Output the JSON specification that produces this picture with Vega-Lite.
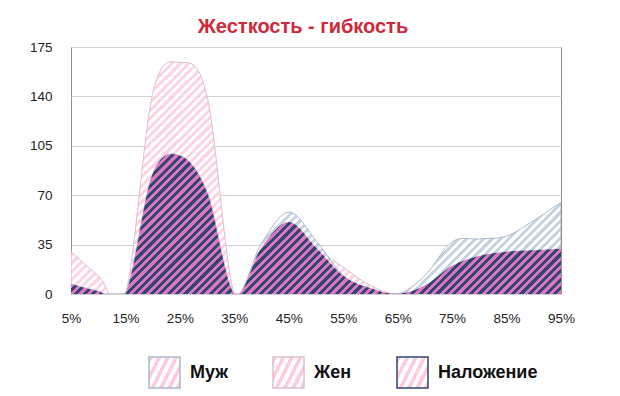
{"$schema":"https://vega.github.io/schema/vega-lite/v6.json","width":490,"height":247,"autosize":{"type":"none"},"padding":{"left":71,"top":47,"right":59,"bottom":102},"background":"#ffffff",
"title":{"text":"Жесткость - гибкость","color":"#d0293a","fontSize":20,"font":"Liberation Sans","fontWeight":"bold","offset":3,"anchor":"middle","dx":-13},
"data":{"values":[
{"p":5,"s":"Муж","v":7},{"p":10,"s":"Муж","v":2},{"p":15,"s":"Муж","v":0},{"p":20,"s":"Муж","v":85},{"p":25,"s":"Муж","v":98},{"p":30,"s":"Муж","v":72},{"p":35,"s":"Муж","v":0},{"p":40,"s":"Муж","v":36},{"p":45,"s":"Муж","v":58},{"p":50,"s":"Муж","v":38},{"p":55,"s":"Муж","v":13},{"p":60,"s":"Муж","v":4},{"p":65,"s":"Муж","v":0},{"p":70,"s":"Муж","v":13},{"p":75,"s":"Муж","v":37},{"p":80,"s":"Муж","v":39},{"p":85,"s":"Муж","v":41},{"p":90,"s":"Муж","v":52},{"p":95,"s":"Муж","v":65},
{"p":5,"s":"Жен","v":30},{"p":10,"s":"Жен","v":13},{"p":15,"s":"Жен","v":0},{"p":20,"s":"Жен","v":142},{"p":25,"s":"Жен","v":164},{"p":30,"s":"Жен","v":140},{"p":35,"s":"Жен","v":0},{"p":40,"s":"Жен","v":33},{"p":45,"s":"Жен","v":51},{"p":50,"s":"Жен","v":33},{"p":55,"s":"Жен","v":19},{"p":60,"s":"Жен","v":6},{"p":65,"s":"Жен","v":0},{"p":70,"s":"Жен","v":6},{"p":75,"s":"Жен","v":20},{"p":80,"s":"Жен","v":27},{"p":85,"s":"Жен","v":30},{"p":90,"s":"Жен","v":31},{"p":95,"s":"Жен","v":32},
{"p":5,"s":"Наложение","v":7},{"p":10,"s":"Наложение","v":2},{"p":15,"s":"Наложение","v":0},{"p":20,"s":"Наложение","v":85},{"p":25,"s":"Наложение","v":98},{"p":30,"s":"Наложение","v":72},{"p":35,"s":"Наложение","v":0},{"p":40,"s":"Наложение","v":33},{"p":45,"s":"Наложение","v":51},{"p":50,"s":"Наложение","v":33},{"p":55,"s":"Наложение","v":13},{"p":60,"s":"Наложение","v":4},{"p":65,"s":"Наложение","v":0},{"p":70,"s":"Наложение","v":6},{"p":75,"s":"Наложение","v":20},{"p":80,"s":"Наложение","v":27},{"p":85,"s":"Наложение","v":30},{"p":90,"s":"Наложение","v":31},{"p":95,"s":"Наложение","v":32}
]},
"encoding":{
"x":{"field":"p","type":"quantitative","scale":{"domain":[5,95],"nice":false,"zero":false},"axis":{"values":[5,15,25,35,45,55,65,75,85,95],"labelExpr":"datum.value + '%'","grid":false,"ticks":false,"domain":false,"labelPadding":17,"labelFontSize":13.5,"labelFont":"Liberation Sans","labelColor":"#222222","labelFlush":false,"labelOverlap":false,"title":null}},
"y":{"field":"v","type":"quantitative","scale":{"domain":[0,175],"nice":false},"stack":null,"axis":{"values":[0,35,70,105,140,175],"grid":true,"gridColor":"#d2d2d2","ticks":false,"domain":false,"labelPadding":19,"labelFontSize":13.5,"labelFont":"Liberation Sans","labelColor":"#222222","labelFlush":false,"labelOverlap":false,"title":null}},
"stroke":{"field":"s","type":"nominal","scale":{"domain":["Муж","Жен","Наложение"],"range":["#a9b9ca","#dcbfcb","#334477"]},
"legend":{"orient":"none","legendX":77,"legendY":309,"direction":"horizontal","title":null,"symbolType":"square","symbolSize":961,"labelFont":"Liberation Sans","labelFontSize":18,"labelFontWeight":"bold","labelColor":"#111111","labelOffset":9,"columnPadding":42,"padding":0,
"encode":{"symbols":{"update":{"fill":[
{"test":"datum.value === 'Муж'","value":{"gradient":"linear","x1":0,"y1":0,"x2":1,"y2":1,"stops":[{"offset":0,"color":"#225588"},{"offset":0.07,"color":"#225588"},{"offset":0.07,"color":"#d6ecfa"},{"offset":0.14,"color":"#d6ecfa"},{"offset":0.14,"color":"#225588"},{"offset":0.21,"color":"#225588"},{"offset":0.21,"color":"#d6ecfa"},{"offset":0.28,"color":"#d6ecfa"},{"offset":0.28,"color":"#225588"},{"offset":0.35,"color":"#225588"},{"offset":0.35,"color":"#d6ecfa"},{"offset":0.42,"color":"#d6ecfa"},{"offset":0.42,"color":"#225588"},{"offset":0.49,"color":"#225588"},{"offset":0.49,"color":"#d6ecfa"},{"offset":0.56,"color":"#d6ecfa"},{"offset":0.56,"color":"#225588"},{"offset":0.63,"color":"#225588"},{"offset":0.63,"color":"#d6ecfa"},{"offset":0.7,"color":"#d6ecfa"},{"offset":0.7,"color":"#225588"},{"offset":0.77,"color":"#225588"},{"offset":0.77,"color":"#d6ecfa"},{"offset":0.84,"color":"#d6ecfa"},{"offset":0.84,"color":"#225588"},{"offset":0.91,"color":"#225588"},{"offset":0.91,"color":"#d6ecfa"},{"offset":0.98,"color":"#d6ecfa"},{"offset":0.98,"color":"#225588"},{"offset":1,"color":"#225588"}]}},
{"test":"datum.value === 'Жен'","value":{"gradient":"linear","x1":0,"y1":0,"x2":1,"y2":1,"stops":[{"offset":0,"color":"#e3a3bd"},{"offset":0.07,"color":"#e3a3bd"},{"offset":0.07,"color":"#fce8f0"},{"offset":0.14,"color":"#fce8f0"},{"offset":0.14,"color":"#e3a3bd"},{"offset":0.21,"color":"#e3a3bd"},{"offset":0.21,"color":"#fce8f0"},{"offset":0.28,"color":"#fce8f0"},{"offset":0.28,"color":"#e3a3bd"},{"offset":0.35,"color":"#e3a3bd"},{"offset":0.35,"color":"#fce8f0"},{"offset":0.42,"color":"#fce8f0"},{"offset":0.42,"color":"#e3a3bd"},{"offset":0.49,"color":"#e3a3bd"},{"offset":0.49,"color":"#fce8f0"},{"offset":0.56,"color":"#fce8f0"},{"offset":0.56,"color":"#e3a3bd"},{"offset":0.63,"color":"#e3a3bd"},{"offset":0.63,"color":"#fce8f0"},{"offset":0.7,"color":"#fce8f0"},{"offset":0.7,"color":"#e3a3bd"},{"offset":0.77,"color":"#e3a3bd"},{"offset":0.77,"color":"#fce8f0"},{"offset":0.84,"color":"#fce8f0"},{"offset":0.84,"color":"#e3a3bd"},{"offset":0.91,"color":"#e3a3bd"},{"offset":0.91,"color":"#fce8f0"},{"offset":0.98,"color":"#fce8f0"},{"offset":0.98,"color":"#e3a3bd"},{"offset":1,"color":"#e3a3bd"}]}},
{"value":{"gradient":"linear","x1":0,"y1":0,"x2":1,"y2":1,"stops":[{"offset":0,"color":"#3a4877"},{"offset":0.07,"color":"#3a4877"},{"offset":0.07,"color":"#d98ac4"},{"offset":0.14,"color":"#d98ac4"},{"offset":0.14,"color":"#3a4877"},{"offset":0.21,"color":"#3a4877"},{"offset":0.21,"color":"#d98ac4"},{"offset":0.28,"color":"#d98ac4"},{"offset":0.28,"color":"#3a4877"},{"offset":0.35,"color":"#3a4877"},{"offset":0.35,"color":"#d98ac4"},{"offset":0.42,"color":"#d98ac4"},{"offset":0.42,"color":"#3a4877"},{"offset":0.49,"color":"#3a4877"},{"offset":0.49,"color":"#d98ac4"},{"offset":0.56,"color":"#d98ac4"},{"offset":0.56,"color":"#3a4877"},{"offset":0.63,"color":"#3a4877"},{"offset":0.63,"color":"#d98ac4"},{"offset":0.7,"color":"#d98ac4"},{"offset":0.7,"color":"#3a4877"},{"offset":0.77,"color":"#3a4877"},{"offset":0.77,"color":"#d98ac4"},{"offset":0.84,"color":"#d98ac4"},{"offset":0.84,"color":"#3a4877"},{"offset":0.91,"color":"#3a4877"},{"offset":0.91,"color":"#d98ac4"},{"offset":0.98,"color":"#d98ac4"},{"offset":0.98,"color":"#3a4877"},{"offset":1,"color":"#3a4877"}]}}
],"stroke":{"value":"#444444"},"strokeWidth":{"value":1},"strokeOpacity":{"value":1},"opacity":{"value":1},"fillOpacity":{"value":1}}}}}}
},
"layer":[
{"transform":[{"filter":"datum.s === 'Жен'"}],"mark":{"type":"area","interpolate":"cardinal","clip":true,"fillOpacity":0.85,"strokeWidth":1,"fill":{"gradient":"linear","x1":0,"y1":0,"x2":1.3717,"y2":0.6855,"stops":[{"offset":0,"color":"#fcd"},
{"offset":0.005,"color":"#fcd"},{"offset":0.005,"color":"#fff"},{"offset":0.01,"color":"#fff"},{"offset":0.01,"color":"#fcd"},
{"offset":0.015,"color":"#fcd"},{"offset":0.015,"color":"#fff"},{"offset":0.02,"color":"#fff"},{"offset":0.02,"color":"#fcd"},
{"offset":0.025,"color":"#fcd"},{"offset":0.025,"color":"#fff"},{"offset":0.03,"color":"#fff"},{"offset":0.03,"color":"#fcd"},
{"offset":0.035,"color":"#fcd"},{"offset":0.035,"color":"#fff"},{"offset":0.04,"color":"#fff"},{"offset":0.04,"color":"#fcd"},
{"offset":0.045,"color":"#fcd"},{"offset":0.045,"color":"#fff"},{"offset":0.05,"color":"#fff"},{"offset":0.05,"color":"#fcd"},
{"offset":0.055,"color":"#fcd"},{"offset":0.055,"color":"#fff"},{"offset":0.06,"color":"#fff"},{"offset":0.06,"color":"#fcd"},
{"offset":0.065,"color":"#fcd"},{"offset":0.065,"color":"#fff"},{"offset":0.07,"color":"#fff"},{"offset":0.07,"color":"#fcd"},
{"offset":0.075,"color":"#fcd"},{"offset":0.075,"color":"#fff"},{"offset":0.08,"color":"#fff"},{"offset":0.08,"color":"#fcd"},
{"offset":0.085,"color":"#fcd"},{"offset":0.085,"color":"#fff"},{"offset":0.09,"color":"#fff"},{"offset":0.09,"color":"#fcd"},
{"offset":0.095,"color":"#fcd"},{"offset":0.095,"color":"#fff"},{"offset":0.1,"color":"#fff"},{"offset":0.1,"color":"#fcd"},
{"offset":0.105,"color":"#fcd"},{"offset":0.105,"color":"#fff"},{"offset":0.11,"color":"#fff"},{"offset":0.11,"color":"#fcd"},
{"offset":0.115,"color":"#fcd"},{"offset":0.115,"color":"#fff"},{"offset":0.12,"color":"#fff"},{"offset":0.12,"color":"#fcd"},
{"offset":0.125,"color":"#fcd"},{"offset":0.125,"color":"#fff"},{"offset":0.13,"color":"#fff"},{"offset":0.13,"color":"#fcd"},
{"offset":0.135,"color":"#fcd"},{"offset":0.135,"color":"#fff"},{"offset":0.14,"color":"#fff"},{"offset":0.14,"color":"#fcd"},
{"offset":0.145,"color":"#fcd"},{"offset":0.145,"color":"#fff"},{"offset":0.15,"color":"#fff"},{"offset":0.15,"color":"#fcd"},
{"offset":0.155,"color":"#fcd"},{"offset":0.155,"color":"#fff"},{"offset":0.16,"color":"#fff"},{"offset":0.16,"color":"#fcd"},
{"offset":0.165,"color":"#fcd"},{"offset":0.165,"color":"#fff"},{"offset":0.17,"color":"#fff"},{"offset":0.17,"color":"#fcd"},
{"offset":0.175,"color":"#fcd"},{"offset":0.175,"color":"#fff"},{"offset":0.18,"color":"#fff"},{"offset":0.18,"color":"#fcd"},
{"offset":0.185,"color":"#fcd"},{"offset":0.185,"color":"#fff"},{"offset":0.19,"color":"#fff"},{"offset":0.19,"color":"#fcd"},
{"offset":0.195,"color":"#fcd"},{"offset":0.195,"color":"#fff"},{"offset":0.2,"color":"#fff"},{"offset":0.2,"color":"#fcd"},
{"offset":0.205,"color":"#fcd"},{"offset":0.205,"color":"#fff"},{"offset":0.21,"color":"#fff"},{"offset":0.21,"color":"#fcd"},
{"offset":0.215,"color":"#fcd"},{"offset":0.215,"color":"#fff"},{"offset":0.22,"color":"#fff"},{"offset":0.22,"color":"#fcd"},
{"offset":0.225,"color":"#fcd"},{"offset":0.225,"color":"#fff"},{"offset":0.23,"color":"#fff"},{"offset":0.23,"color":"#fcd"},
{"offset":0.235,"color":"#fcd"},{"offset":0.235,"color":"#fff"},{"offset":0.24,"color":"#fff"},{"offset":0.24,"color":"#fcd"},
{"offset":0.245,"color":"#fcd"},{"offset":0.245,"color":"#fff"},{"offset":0.25,"color":"#fff"},{"offset":0.25,"color":"#fcd"},
{"offset":0.255,"color":"#fcd"},{"offset":0.255,"color":"#fff"},{"offset":0.26,"color":"#fff"},{"offset":0.26,"color":"#fcd"},
{"offset":0.265,"color":"#fcd"},{"offset":0.265,"color":"#fff"},{"offset":0.27,"color":"#fff"},{"offset":0.27,"color":"#fcd"},
{"offset":0.275,"color":"#fcd"},{"offset":0.275,"color":"#fff"},{"offset":0.28,"color":"#fff"},{"offset":0.28,"color":"#fcd"},
{"offset":0.285,"color":"#fcd"},{"offset":0.285,"color":"#fff"},{"offset":0.29,"color":"#fff"},{"offset":0.29,"color":"#fcd"},
{"offset":0.295,"color":"#fcd"},{"offset":0.295,"color":"#fff"},{"offset":0.3,"color":"#fff"},{"offset":0.3,"color":"#fcd"},
{"offset":0.305,"color":"#fcd"},{"offset":0.305,"color":"#fff"},{"offset":0.31,"color":"#fff"},{"offset":0.31,"color":"#fcd"},
{"offset":0.315,"color":"#fcd"},{"offset":0.315,"color":"#fff"},{"offset":0.32,"color":"#fff"},{"offset":0.32,"color":"#fcd"},
{"offset":0.325,"color":"#fcd"},{"offset":0.325,"color":"#fff"},{"offset":0.33,"color":"#fff"},{"offset":0.33,"color":"#fcd"},
{"offset":0.335,"color":"#fcd"},{"offset":0.335,"color":"#fff"},{"offset":0.34,"color":"#fff"},{"offset":0.34,"color":"#fcd"},
{"offset":0.345,"color":"#fcd"},{"offset":0.345,"color":"#fff"},{"offset":0.35,"color":"#fff"},{"offset":0.35,"color":"#fcd"},
{"offset":0.355,"color":"#fcd"},{"offset":0.355,"color":"#fff"},{"offset":0.36,"color":"#fff"},{"offset":0.36,"color":"#fcd"},
{"offset":0.365,"color":"#fcd"},{"offset":0.365,"color":"#fff"},{"offset":0.37,"color":"#fff"},{"offset":0.37,"color":"#fcd"},
{"offset":0.375,"color":"#fcd"},{"offset":0.375,"color":"#fff"},{"offset":0.38,"color":"#fff"},{"offset":0.38,"color":"#fcd"},
{"offset":0.385,"color":"#fcd"},{"offset":0.385,"color":"#fff"},{"offset":0.39,"color":"#fff"},{"offset":0.39,"color":"#fcd"},
{"offset":0.395,"color":"#fcd"},{"offset":0.395,"color":"#fff"},{"offset":0.4,"color":"#fff"},{"offset":0.4,"color":"#fcd"},
{"offset":0.405,"color":"#fcd"},{"offset":0.405,"color":"#fff"},{"offset":0.41,"color":"#fff"},{"offset":0.41,"color":"#fcd"},
{"offset":0.415,"color":"#fcd"},{"offset":0.415,"color":"#fff"},{"offset":0.42,"color":"#fff"},{"offset":0.42,"color":"#fcd"},
{"offset":0.425,"color":"#fcd"},{"offset":0.425,"color":"#fff"},{"offset":0.43,"color":"#fff"},{"offset":0.43,"color":"#fcd"},
{"offset":0.435,"color":"#fcd"},{"offset":0.435,"color":"#fff"},{"offset":0.44,"color":"#fff"},{"offset":0.44,"color":"#fcd"},
{"offset":0.445,"color":"#fcd"},{"offset":0.445,"color":"#fff"},{"offset":0.45,"color":"#fff"},{"offset":0.45,"color":"#fcd"},
{"offset":0.455,"color":"#fcd"},{"offset":0.455,"color":"#fff"},{"offset":0.46,"color":"#fff"},{"offset":0.46,"color":"#fcd"},
{"offset":0.465,"color":"#fcd"},{"offset":0.465,"color":"#fff"},{"offset":0.47,"color":"#fff"},{"offset":0.47,"color":"#fcd"},
{"offset":0.475,"color":"#fcd"},{"offset":0.475,"color":"#fff"},{"offset":0.48,"color":"#fff"},{"offset":0.48,"color":"#fcd"},
{"offset":0.485,"color":"#fcd"},{"offset":0.485,"color":"#fff"},{"offset":0.49,"color":"#fff"},{"offset":0.49,"color":"#fcd"},
{"offset":0.495,"color":"#fcd"},{"offset":0.495,"color":"#fff"},{"offset":0.5,"color":"#fff"},{"offset":0.5,"color":"#fcd"},
{"offset":0.505,"color":"#fcd"},{"offset":0.505,"color":"#fff"},{"offset":0.51,"color":"#fff"},{"offset":0.51,"color":"#fcd"},
{"offset":0.515,"color":"#fcd"},{"offset":0.515,"color":"#fff"},{"offset":0.52,"color":"#fff"},{"offset":0.52,"color":"#fcd"},
{"offset":0.525,"color":"#fcd"},{"offset":0.525,"color":"#fff"},{"offset":0.53,"color":"#fff"},{"offset":0.53,"color":"#fcd"},
{"offset":0.535,"color":"#fcd"},{"offset":0.535,"color":"#fff"},{"offset":0.54,"color":"#fff"},{"offset":0.54,"color":"#fcd"},
{"offset":0.545,"color":"#fcd"},{"offset":0.545,"color":"#fff"},{"offset":0.55,"color":"#fff"},{"offset":0.55,"color":"#fcd"},
{"offset":0.555,"color":"#fcd"},{"offset":0.555,"color":"#fff"},{"offset":0.56,"color":"#fff"},{"offset":0.56,"color":"#fcd"},
{"offset":0.565,"color":"#fcd"},{"offset":0.565,"color":"#fff"},{"offset":0.57,"color":"#fff"},{"offset":0.57,"color":"#fcd"},
{"offset":0.575,"color":"#fcd"},{"offset":0.575,"color":"#fff"},{"offset":0.58,"color":"#fff"},{"offset":0.58,"color":"#fcd"},
{"offset":0.585,"color":"#fcd"},{"offset":0.585,"color":"#fff"},{"offset":0.59,"color":"#fff"},{"offset":0.59,"color":"#fcd"},
{"offset":0.595,"color":"#fcd"},{"offset":0.595,"color":"#fff"},{"offset":0.6,"color":"#fff"},{"offset":0.6,"color":"#fcd"},
{"offset":0.605,"color":"#fcd"},{"offset":0.605,"color":"#fff"},{"offset":0.61,"color":"#fff"},{"offset":0.61,"color":"#fcd"},
{"offset":0.615,"color":"#fcd"},{"offset":0.615,"color":"#fff"},{"offset":0.62,"color":"#fff"},{"offset":0.62,"color":"#fcd"},
{"offset":0.625,"color":"#fcd"},{"offset":0.625,"color":"#fff"},{"offset":0.63,"color":"#fff"},{"offset":0.63,"color":"#fcd"},
{"offset":0.635,"color":"#fcd"},{"offset":0.635,"color":"#fff"},{"offset":0.64,"color":"#fff"},{"offset":0.64,"color":"#fcd"},
{"offset":0.645,"color":"#fcd"},{"offset":0.645,"color":"#fff"},{"offset":0.65,"color":"#fff"},{"offset":0.65,"color":"#fcd"},
{"offset":0.655,"color":"#fcd"},{"offset":0.655,"color":"#fff"},{"offset":0.66,"color":"#fff"},{"offset":0.66,"color":"#fcd"},
{"offset":0.665,"color":"#fcd"},{"offset":0.665,"color":"#fff"},{"offset":0.67,"color":"#fff"},{"offset":0.67,"color":"#fcd"},
{"offset":0.675,"color":"#fcd"},{"offset":0.675,"color":"#fff"},{"offset":0.68,"color":"#fff"},{"offset":0.68,"color":"#fcd"},
{"offset":0.685,"color":"#fcd"},{"offset":0.685,"color":"#fff"},{"offset":0.69,"color":"#fff"},{"offset":0.69,"color":"#fcd"},
{"offset":0.695,"color":"#fcd"},{"offset":0.695,"color":"#fff"},{"offset":0.7,"color":"#fff"},{"offset":0.7,"color":"#fcd"},
{"offset":0.705,"color":"#fcd"},{"offset":0.705,"color":"#fff"},{"offset":0.71,"color":"#fff"},{"offset":0.71,"color":"#fcd"},
{"offset":0.715,"color":"#fcd"},{"offset":0.715,"color":"#fff"},{"offset":0.72,"color":"#fff"},{"offset":0.72,"color":"#fcd"},
{"offset":0.725,"color":"#fcd"},{"offset":0.725,"color":"#fff"},{"offset":0.73,"color":"#fff"},{"offset":0.73,"color":"#fcd"},
{"offset":0.735,"color":"#fcd"},{"offset":0.735,"color":"#fff"},{"offset":0.74,"color":"#fff"},{"offset":0.74,"color":"#fcd"},
{"offset":0.745,"color":"#fcd"},{"offset":0.745,"color":"#fff"},{"offset":0.75,"color":"#fff"},{"offset":0.75,"color":"#fcd"},
{"offset":0.755,"color":"#fcd"},{"offset":0.755,"color":"#fff"},{"offset":0.76,"color":"#fff"},{"offset":0.76,"color":"#fcd"},
{"offset":0.765,"color":"#fcd"},{"offset":0.765,"color":"#fff"},{"offset":0.77,"color":"#fff"},{"offset":0.77,"color":"#fcd"},
{"offset":0.775,"color":"#fcd"},{"offset":0.775,"color":"#fff"},{"offset":0.78,"color":"#fff"},{"offset":0.78,"color":"#fcd"},
{"offset":0.785,"color":"#fcd"},{"offset":0.785,"color":"#fff"},{"offset":0.79,"color":"#fff"},{"offset":0.79,"color":"#fcd"},
{"offset":0.795,"color":"#fcd"},{"offset":0.795,"color":"#fff"},{"offset":0.8,"color":"#fff"},{"offset":0.8,"color":"#fcd"},
{"offset":0.805,"color":"#fcd"},{"offset":0.805,"color":"#fff"},{"offset":0.81,"color":"#fff"},{"offset":0.81,"color":"#fcd"},
{"offset":0.815,"color":"#fcd"},{"offset":0.815,"color":"#fff"},{"offset":0.82,"color":"#fff"},{"offset":0.82,"color":"#fcd"},
{"offset":0.825,"color":"#fcd"},{"offset":0.825,"color":"#fff"},{"offset":0.83,"color":"#fff"},{"offset":0.83,"color":"#fcd"},
{"offset":0.835,"color":"#fcd"},{"offset":0.835,"color":"#fff"},{"offset":0.84,"color":"#fff"},{"offset":0.84,"color":"#fcd"},
{"offset":0.845,"color":"#fcd"},{"offset":0.845,"color":"#fff"},{"offset":0.85,"color":"#fff"},{"offset":0.85,"color":"#fcd"},
{"offset":0.855,"color":"#fcd"},{"offset":0.855,"color":"#fff"},{"offset":0.86,"color":"#fff"},{"offset":0.86,"color":"#fcd"},
{"offset":0.865,"color":"#fcd"},{"offset":0.865,"color":"#fff"},{"offset":0.87,"color":"#fff"},{"offset":0.87,"color":"#fcd"},
{"offset":0.875,"color":"#fcd"},{"offset":0.875,"color":"#fff"},{"offset":0.88,"color":"#fff"},{"offset":0.88,"color":"#fcd"}
]}}},
{"transform":[{"filter":"datum.s === 'Муж'"}],"mark":{"type":"area","interpolate":"cardinal","clip":true,"fillOpacity":0.85,"strokeWidth":1,"fill":{"gradient":"linear","x1":0,"y1":0,"x2":1.5701,"y2":0.4758,"stops":[{"offset":0,"color":"#bcd"},
{"offset":0.005,"color":"#bcd"},{"offset":0.005,"color":"#fff"},{"offset":0.01,"color":"#fff"},{"offset":0.01,"color":"#bcd"},
{"offset":0.015,"color":"#bcd"},{"offset":0.015,"color":"#fff"},{"offset":0.02,"color":"#fff"},{"offset":0.02,"color":"#bcd"},
{"offset":0.025,"color":"#bcd"},{"offset":0.025,"color":"#fff"},{"offset":0.03,"color":"#fff"},{"offset":0.03,"color":"#bcd"},
{"offset":0.035,"color":"#bcd"},{"offset":0.035,"color":"#fff"},{"offset":0.04,"color":"#fff"},{"offset":0.04,"color":"#bcd"},
{"offset":0.045,"color":"#bcd"},{"offset":0.045,"color":"#fff"},{"offset":0.05,"color":"#fff"},{"offset":0.05,"color":"#bcd"},
{"offset":0.055,"color":"#bcd"},{"offset":0.055,"color":"#fff"},{"offset":0.06,"color":"#fff"},{"offset":0.06,"color":"#bcd"},
{"offset":0.065,"color":"#bcd"},{"offset":0.065,"color":"#fff"},{"offset":0.07,"color":"#fff"},{"offset":0.07,"color":"#bcd"},
{"offset":0.075,"color":"#bcd"},{"offset":0.075,"color":"#fff"},{"offset":0.08,"color":"#fff"},{"offset":0.08,"color":"#bcd"},
{"offset":0.085,"color":"#bcd"},{"offset":0.085,"color":"#fff"},{"offset":0.09,"color":"#fff"},{"offset":0.09,"color":"#bcd"},
{"offset":0.095,"color":"#bcd"},{"offset":0.095,"color":"#fff"},{"offset":0.1,"color":"#fff"},{"offset":0.1,"color":"#bcd"},
{"offset":0.105,"color":"#bcd"},{"offset":0.105,"color":"#fff"},{"offset":0.11,"color":"#fff"},{"offset":0.11,"color":"#bcd"},
{"offset":0.115,"color":"#bcd"},{"offset":0.115,"color":"#fff"},{"offset":0.12,"color":"#fff"},{"offset":0.12,"color":"#bcd"},
{"offset":0.125,"color":"#bcd"},{"offset":0.125,"color":"#fff"},{"offset":0.13,"color":"#fff"},{"offset":0.13,"color":"#bcd"},
{"offset":0.135,"color":"#bcd"},{"offset":0.135,"color":"#fff"},{"offset":0.14,"color":"#fff"},{"offset":0.14,"color":"#bcd"},
{"offset":0.145,"color":"#bcd"},{"offset":0.145,"color":"#fff"},{"offset":0.15,"color":"#fff"},{"offset":0.15,"color":"#bcd"},
{"offset":0.155,"color":"#bcd"},{"offset":0.155,"color":"#fff"},{"offset":0.16,"color":"#fff"},{"offset":0.16,"color":"#bcd"},
{"offset":0.165,"color":"#bcd"},{"offset":0.165,"color":"#fff"},{"offset":0.17,"color":"#fff"},{"offset":0.17,"color":"#bcd"},
{"offset":0.175,"color":"#bcd"},{"offset":0.175,"color":"#fff"},{"offset":0.18,"color":"#fff"},{"offset":0.18,"color":"#bcd"},
{"offset":0.185,"color":"#bcd"},{"offset":0.185,"color":"#fff"},{"offset":0.19,"color":"#fff"},{"offset":0.19,"color":"#bcd"},
{"offset":0.195,"color":"#bcd"},{"offset":0.195,"color":"#fff"},{"offset":0.2,"color":"#fff"},{"offset":0.2,"color":"#bcd"},
{"offset":0.205,"color":"#bcd"},{"offset":0.205,"color":"#fff"},{"offset":0.21,"color":"#fff"},{"offset":0.21,"color":"#bcd"},
{"offset":0.215,"color":"#bcd"},{"offset":0.215,"color":"#fff"},{"offset":0.22,"color":"#fff"},{"offset":0.22,"color":"#bcd"},
{"offset":0.225,"color":"#bcd"},{"offset":0.225,"color":"#fff"},{"offset":0.23,"color":"#fff"},{"offset":0.23,"color":"#bcd"},
{"offset":0.235,"color":"#bcd"},{"offset":0.235,"color":"#fff"},{"offset":0.24,"color":"#fff"},{"offset":0.24,"color":"#bcd"},
{"offset":0.245,"color":"#bcd"},{"offset":0.245,"color":"#fff"},{"offset":0.25,"color":"#fff"},{"offset":0.25,"color":"#bcd"},
{"offset":0.255,"color":"#bcd"},{"offset":0.255,"color":"#fff"},{"offset":0.26,"color":"#fff"},{"offset":0.26,"color":"#bcd"},
{"offset":0.265,"color":"#bcd"},{"offset":0.265,"color":"#fff"},{"offset":0.27,"color":"#fff"},{"offset":0.27,"color":"#bcd"},
{"offset":0.275,"color":"#bcd"},{"offset":0.275,"color":"#fff"},{"offset":0.28,"color":"#fff"},{"offset":0.28,"color":"#bcd"},
{"offset":0.285,"color":"#bcd"},{"offset":0.285,"color":"#fff"},{"offset":0.29,"color":"#fff"},{"offset":0.29,"color":"#bcd"},
{"offset":0.295,"color":"#bcd"},{"offset":0.295,"color":"#fff"},{"offset":0.3,"color":"#fff"},{"offset":0.3,"color":"#bcd"},
{"offset":0.305,"color":"#bcd"},{"offset":0.305,"color":"#fff"},{"offset":0.31,"color":"#fff"},{"offset":0.31,"color":"#bcd"},
{"offset":0.315,"color":"#bcd"},{"offset":0.315,"color":"#fff"},{"offset":0.32,"color":"#fff"},{"offset":0.32,"color":"#bcd"},
{"offset":0.325,"color":"#bcd"},{"offset":0.325,"color":"#fff"},{"offset":0.33,"color":"#fff"},{"offset":0.33,"color":"#bcd"},
{"offset":0.335,"color":"#bcd"},{"offset":0.335,"color":"#fff"},{"offset":0.34,"color":"#fff"},{"offset":0.34,"color":"#bcd"},
{"offset":0.345,"color":"#bcd"},{"offset":0.345,"color":"#fff"},{"offset":0.35,"color":"#fff"},{"offset":0.35,"color":"#bcd"},
{"offset":0.355,"color":"#bcd"},{"offset":0.355,"color":"#fff"},{"offset":0.36,"color":"#fff"},{"offset":0.36,"color":"#bcd"},
{"offset":0.365,"color":"#bcd"},{"offset":0.365,"color":"#fff"},{"offset":0.37,"color":"#fff"},{"offset":0.37,"color":"#bcd"},
{"offset":0.375,"color":"#bcd"},{"offset":0.375,"color":"#fff"},{"offset":0.38,"color":"#fff"},{"offset":0.38,"color":"#bcd"},
{"offset":0.385,"color":"#bcd"},{"offset":0.385,"color":"#fff"},{"offset":0.39,"color":"#fff"},{"offset":0.39,"color":"#bcd"},
{"offset":0.395,"color":"#bcd"},{"offset":0.395,"color":"#fff"},{"offset":0.4,"color":"#fff"},{"offset":0.4,"color":"#bcd"},
{"offset":0.405,"color":"#bcd"},{"offset":0.405,"color":"#fff"},{"offset":0.41,"color":"#fff"},{"offset":0.41,"color":"#bcd"},
{"offset":0.415,"color":"#bcd"},{"offset":0.415,"color":"#fff"},{"offset":0.42,"color":"#fff"},{"offset":0.42,"color":"#bcd"},
{"offset":0.425,"color":"#bcd"},{"offset":0.425,"color":"#fff"},{"offset":0.43,"color":"#fff"},{"offset":0.43,"color":"#bcd"},
{"offset":0.435,"color":"#bcd"},{"offset":0.435,"color":"#fff"},{"offset":0.44,"color":"#fff"},{"offset":0.44,"color":"#bcd"},
{"offset":0.445,"color":"#bcd"},{"offset":0.445,"color":"#fff"},{"offset":0.45,"color":"#fff"},{"offset":0.45,"color":"#bcd"},
{"offset":0.455,"color":"#bcd"},{"offset":0.455,"color":"#fff"},{"offset":0.46,"color":"#fff"},{"offset":0.46,"color":"#bcd"},
{"offset":0.465,"color":"#bcd"},{"offset":0.465,"color":"#fff"},{"offset":0.47,"color":"#fff"},{"offset":0.47,"color":"#bcd"},
{"offset":0.475,"color":"#bcd"},{"offset":0.475,"color":"#fff"},{"offset":0.48,"color":"#fff"},{"offset":0.48,"color":"#bcd"},
{"offset":0.485,"color":"#bcd"},{"offset":0.485,"color":"#fff"},{"offset":0.49,"color":"#fff"},{"offset":0.49,"color":"#bcd"},
{"offset":0.495,"color":"#bcd"},{"offset":0.495,"color":"#fff"},{"offset":0.5,"color":"#fff"},{"offset":0.5,"color":"#bcd"},
{"offset":0.505,"color":"#bcd"},{"offset":0.505,"color":"#fff"},{"offset":0.51,"color":"#fff"},{"offset":0.51,"color":"#bcd"},
{"offset":0.515,"color":"#bcd"},{"offset":0.515,"color":"#fff"},{"offset":0.52,"color":"#fff"},{"offset":0.52,"color":"#bcd"},
{"offset":0.525,"color":"#bcd"},{"offset":0.525,"color":"#fff"},{"offset":0.53,"color":"#fff"},{"offset":0.53,"color":"#bcd"},
{"offset":0.535,"color":"#bcd"},{"offset":0.535,"color":"#fff"},{"offset":0.54,"color":"#fff"},{"offset":0.54,"color":"#bcd"},
{"offset":0.545,"color":"#bcd"},{"offset":0.545,"color":"#fff"},{"offset":0.55,"color":"#fff"},{"offset":0.55,"color":"#bcd"},
{"offset":0.555,"color":"#bcd"},{"offset":0.555,"color":"#fff"},{"offset":0.56,"color":"#fff"},{"offset":0.56,"color":"#bcd"},
{"offset":0.565,"color":"#bcd"},{"offset":0.565,"color":"#fff"},{"offset":0.57,"color":"#fff"},{"offset":0.57,"color":"#bcd"},
{"offset":0.575,"color":"#bcd"},{"offset":0.575,"color":"#fff"},{"offset":0.58,"color":"#fff"},{"offset":0.58,"color":"#bcd"},
{"offset":0.585,"color":"#bcd"},{"offset":0.585,"color":"#fff"},{"offset":0.59,"color":"#fff"},{"offset":0.59,"color":"#bcd"},
{"offset":0.595,"color":"#bcd"},{"offset":0.595,"color":"#fff"},{"offset":0.6,"color":"#fff"},{"offset":0.6,"color":"#bcd"},
{"offset":0.605,"color":"#bcd"},{"offset":0.605,"color":"#fff"},{"offset":0.61,"color":"#fff"},{"offset":0.61,"color":"#bcd"},
{"offset":0.615,"color":"#bcd"},{"offset":0.615,"color":"#fff"},{"offset":0.62,"color":"#fff"},{"offset":0.62,"color":"#bcd"},
{"offset":0.625,"color":"#bcd"},{"offset":0.625,"color":"#fff"},{"offset":0.63,"color":"#fff"},{"offset":0.63,"color":"#bcd"},
{"offset":0.635,"color":"#bcd"},{"offset":0.635,"color":"#fff"},{"offset":0.64,"color":"#fff"},{"offset":0.64,"color":"#bcd"},
{"offset":0.645,"color":"#bcd"},{"offset":0.645,"color":"#fff"},{"offset":0.65,"color":"#fff"},{"offset":0.65,"color":"#bcd"},
{"offset":0.655,"color":"#bcd"},{"offset":0.655,"color":"#fff"},{"offset":0.66,"color":"#fff"},{"offset":0.66,"color":"#bcd"},
{"offset":0.665,"color":"#bcd"},{"offset":0.665,"color":"#fff"},{"offset":0.67,"color":"#fff"},{"offset":0.67,"color":"#bcd"},
{"offset":0.675,"color":"#bcd"},{"offset":0.675,"color":"#fff"},{"offset":0.68,"color":"#fff"},{"offset":0.68,"color":"#bcd"},
{"offset":0.685,"color":"#bcd"},{"offset":0.685,"color":"#fff"},{"offset":0.69,"color":"#fff"},{"offset":0.69,"color":"#bcd"},
{"offset":0.695,"color":"#bcd"},{"offset":0.695,"color":"#fff"},{"offset":0.7,"color":"#fff"},{"offset":0.7,"color":"#bcd"},
{"offset":0.705,"color":"#bcd"},{"offset":0.705,"color":"#fff"},{"offset":0.71,"color":"#fff"},{"offset":0.71,"color":"#bcd"},
{"offset":0.715,"color":"#bcd"},{"offset":0.715,"color":"#fff"},{"offset":0.72,"color":"#fff"},{"offset":0.72,"color":"#bcd"},
{"offset":0.725,"color":"#bcd"},{"offset":0.725,"color":"#fff"},{"offset":0.73,"color":"#fff"},{"offset":0.73,"color":"#bcd"},
{"offset":0.735,"color":"#bcd"},{"offset":0.735,"color":"#fff"},{"offset":0.74,"color":"#fff"},{"offset":0.74,"color":"#bcd"},
{"offset":0.745,"color":"#bcd"},{"offset":0.745,"color":"#fff"},{"offset":0.75,"color":"#fff"},{"offset":0.75,"color":"#bcd"},
{"offset":0.755,"color":"#bcd"},{"offset":0.755,"color":"#fff"},{"offset":0.76,"color":"#fff"},{"offset":0.76,"color":"#bcd"},
{"offset":0.765,"color":"#bcd"},{"offset":0.765,"color":"#fff"},{"offset":0.77,"color":"#fff"},{"offset":0.77,"color":"#bcd"}
]}}},
{"transform":[{"filter":"datum.s === 'Наложение'"}],"mark":{"type":"area","interpolate":"cardinal","clip":true,"strokeWidth":0,"fill":{"gradient":"linear","x1":0,"y1":0,"x2":1.5701,"y2":0.4758,"stops":[{"offset":0,"color":"#347"},
{"offset":0.005,"color":"#347"},{"offset":0.005,"color":"#d7b"},{"offset":0.01,"color":"#d7b"},{"offset":0.01,"color":"#347"},
{"offset":0.015,"color":"#347"},{"offset":0.015,"color":"#d7b"},{"offset":0.02,"color":"#d7b"},{"offset":0.02,"color":"#347"},
{"offset":0.025,"color":"#347"},{"offset":0.025,"color":"#d7b"},{"offset":0.03,"color":"#d7b"},{"offset":0.03,"color":"#347"},
{"offset":0.035,"color":"#347"},{"offset":0.035,"color":"#d7b"},{"offset":0.04,"color":"#d7b"},{"offset":0.04,"color":"#347"},
{"offset":0.045,"color":"#347"},{"offset":0.045,"color":"#d7b"},{"offset":0.05,"color":"#d7b"},{"offset":0.05,"color":"#347"},
{"offset":0.055,"color":"#347"},{"offset":0.055,"color":"#d7b"},{"offset":0.06,"color":"#d7b"},{"offset":0.06,"color":"#347"},
{"offset":0.065,"color":"#347"},{"offset":0.065,"color":"#d7b"},{"offset":0.07,"color":"#d7b"},{"offset":0.07,"color":"#347"},
{"offset":0.075,"color":"#347"},{"offset":0.075,"color":"#d7b"},{"offset":0.08,"color":"#d7b"},{"offset":0.08,"color":"#347"},
{"offset":0.085,"color":"#347"},{"offset":0.085,"color":"#d7b"},{"offset":0.09,"color":"#d7b"},{"offset":0.09,"color":"#347"},
{"offset":0.095,"color":"#347"},{"offset":0.095,"color":"#d7b"},{"offset":0.1,"color":"#d7b"},{"offset":0.1,"color":"#347"},
{"offset":0.105,"color":"#347"},{"offset":0.105,"color":"#d7b"},{"offset":0.11,"color":"#d7b"},{"offset":0.11,"color":"#347"},
{"offset":0.115,"color":"#347"},{"offset":0.115,"color":"#d7b"},{"offset":0.12,"color":"#d7b"},{"offset":0.12,"color":"#347"},
{"offset":0.125,"color":"#347"},{"offset":0.125,"color":"#d7b"},{"offset":0.13,"color":"#d7b"},{"offset":0.13,"color":"#347"},
{"offset":0.135,"color":"#347"},{"offset":0.135,"color":"#d7b"},{"offset":0.14,"color":"#d7b"},{"offset":0.14,"color":"#347"},
{"offset":0.145,"color":"#347"},{"offset":0.145,"color":"#d7b"},{"offset":0.15,"color":"#d7b"},{"offset":0.15,"color":"#347"},
{"offset":0.155,"color":"#347"},{"offset":0.155,"color":"#d7b"},{"offset":0.16,"color":"#d7b"},{"offset":0.16,"color":"#347"},
{"offset":0.165,"color":"#347"},{"offset":0.165,"color":"#d7b"},{"offset":0.17,"color":"#d7b"},{"offset":0.17,"color":"#347"},
{"offset":0.175,"color":"#347"},{"offset":0.175,"color":"#d7b"},{"offset":0.18,"color":"#d7b"},{"offset":0.18,"color":"#347"},
{"offset":0.185,"color":"#347"},{"offset":0.185,"color":"#d7b"},{"offset":0.19,"color":"#d7b"},{"offset":0.19,"color":"#347"},
{"offset":0.195,"color":"#347"},{"offset":0.195,"color":"#d7b"},{"offset":0.2,"color":"#d7b"},{"offset":0.2,"color":"#347"},
{"offset":0.205,"color":"#347"},{"offset":0.205,"color":"#d7b"},{"offset":0.21,"color":"#d7b"},{"offset":0.21,"color":"#347"},
{"offset":0.215,"color":"#347"},{"offset":0.215,"color":"#d7b"},{"offset":0.22,"color":"#d7b"},{"offset":0.22,"color":"#347"},
{"offset":0.225,"color":"#347"},{"offset":0.225,"color":"#d7b"},{"offset":0.23,"color":"#d7b"},{"offset":0.23,"color":"#347"},
{"offset":0.235,"color":"#347"},{"offset":0.235,"color":"#d7b"},{"offset":0.24,"color":"#d7b"},{"offset":0.24,"color":"#347"},
{"offset":0.245,"color":"#347"},{"offset":0.245,"color":"#d7b"},{"offset":0.25,"color":"#d7b"},{"offset":0.25,"color":"#347"},
{"offset":0.255,"color":"#347"},{"offset":0.255,"color":"#d7b"},{"offset":0.26,"color":"#d7b"},{"offset":0.26,"color":"#347"},
{"offset":0.265,"color":"#347"},{"offset":0.265,"color":"#d7b"},{"offset":0.27,"color":"#d7b"},{"offset":0.27,"color":"#347"},
{"offset":0.275,"color":"#347"},{"offset":0.275,"color":"#d7b"},{"offset":0.28,"color":"#d7b"},{"offset":0.28,"color":"#347"},
{"offset":0.285,"color":"#347"},{"offset":0.285,"color":"#d7b"},{"offset":0.29,"color":"#d7b"},{"offset":0.29,"color":"#347"},
{"offset":0.295,"color":"#347"},{"offset":0.295,"color":"#d7b"},{"offset":0.3,"color":"#d7b"},{"offset":0.3,"color":"#347"},
{"offset":0.305,"color":"#347"},{"offset":0.305,"color":"#d7b"},{"offset":0.31,"color":"#d7b"},{"offset":0.31,"color":"#347"},
{"offset":0.315,"color":"#347"},{"offset":0.315,"color":"#d7b"},{"offset":0.32,"color":"#d7b"},{"offset":0.32,"color":"#347"},
{"offset":0.325,"color":"#347"},{"offset":0.325,"color":"#d7b"},{"offset":0.33,"color":"#d7b"},{"offset":0.33,"color":"#347"},
{"offset":0.335,"color":"#347"},{"offset":0.335,"color":"#d7b"},{"offset":0.34,"color":"#d7b"},{"offset":0.34,"color":"#347"},
{"offset":0.345,"color":"#347"},{"offset":0.345,"color":"#d7b"},{"offset":0.35,"color":"#d7b"},{"offset":0.35,"color":"#347"},
{"offset":0.355,"color":"#347"},{"offset":0.355,"color":"#d7b"},{"offset":0.36,"color":"#d7b"},{"offset":0.36,"color":"#347"},
{"offset":0.365,"color":"#347"},{"offset":0.365,"color":"#d7b"},{"offset":0.37,"color":"#d7b"},{"offset":0.37,"color":"#347"},
{"offset":0.375,"color":"#347"},{"offset":0.375,"color":"#d7b"},{"offset":0.38,"color":"#d7b"},{"offset":0.38,"color":"#347"},
{"offset":0.385,"color":"#347"},{"offset":0.385,"color":"#d7b"},{"offset":0.39,"color":"#d7b"},{"offset":0.39,"color":"#347"},
{"offset":0.395,"color":"#347"},{"offset":0.395,"color":"#d7b"},{"offset":0.4,"color":"#d7b"},{"offset":0.4,"color":"#347"},
{"offset":0.405,"color":"#347"},{"offset":0.405,"color":"#d7b"},{"offset":0.41,"color":"#d7b"},{"offset":0.41,"color":"#347"},
{"offset":0.415,"color":"#347"},{"offset":0.415,"color":"#d7b"},{"offset":0.42,"color":"#d7b"},{"offset":0.42,"color":"#347"},
{"offset":0.425,"color":"#347"},{"offset":0.425,"color":"#d7b"},{"offset":0.43,"color":"#d7b"},{"offset":0.43,"color":"#347"},
{"offset":0.435,"color":"#347"},{"offset":0.435,"color":"#d7b"},{"offset":0.44,"color":"#d7b"},{"offset":0.44,"color":"#347"},
{"offset":0.445,"color":"#347"},{"offset":0.445,"color":"#d7b"},{"offset":0.45,"color":"#d7b"},{"offset":0.45,"color":"#347"},
{"offset":0.455,"color":"#347"},{"offset":0.455,"color":"#d7b"},{"offset":0.46,"color":"#d7b"},{"offset":0.46,"color":"#347"},
{"offset":0.465,"color":"#347"},{"offset":0.465,"color":"#d7b"},{"offset":0.47,"color":"#d7b"},{"offset":0.47,"color":"#347"},
{"offset":0.475,"color":"#347"},{"offset":0.475,"color":"#d7b"},{"offset":0.48,"color":"#d7b"},{"offset":0.48,"color":"#347"},
{"offset":0.485,"color":"#347"},{"offset":0.485,"color":"#d7b"},{"offset":0.49,"color":"#d7b"},{"offset":0.49,"color":"#347"},
{"offset":0.495,"color":"#347"},{"offset":0.495,"color":"#d7b"},{"offset":0.5,"color":"#d7b"},{"offset":0.5,"color":"#347"},
{"offset":0.505,"color":"#347"},{"offset":0.505,"color":"#d7b"},{"offset":0.51,"color":"#d7b"},{"offset":0.51,"color":"#347"},
{"offset":0.515,"color":"#347"},{"offset":0.515,"color":"#d7b"},{"offset":0.52,"color":"#d7b"},{"offset":0.52,"color":"#347"},
{"offset":0.525,"color":"#347"},{"offset":0.525,"color":"#d7b"},{"offset":0.53,"color":"#d7b"},{"offset":0.53,"color":"#347"},
{"offset":0.535,"color":"#347"},{"offset":0.535,"color":"#d7b"},{"offset":0.54,"color":"#d7b"},{"offset":0.54,"color":"#347"},
{"offset":0.545,"color":"#347"},{"offset":0.545,"color":"#d7b"},{"offset":0.55,"color":"#d7b"},{"offset":0.55,"color":"#347"},
{"offset":0.555,"color":"#347"},{"offset":0.555,"color":"#d7b"},{"offset":0.56,"color":"#d7b"},{"offset":0.56,"color":"#347"},
{"offset":0.565,"color":"#347"},{"offset":0.565,"color":"#d7b"},{"offset":0.57,"color":"#d7b"},{"offset":0.57,"color":"#347"},
{"offset":0.575,"color":"#347"},{"offset":0.575,"color":"#d7b"},{"offset":0.58,"color":"#d7b"},{"offset":0.58,"color":"#347"},
{"offset":0.585,"color":"#347"},{"offset":0.585,"color":"#d7b"},{"offset":0.59,"color":"#d7b"},{"offset":0.59,"color":"#347"},
{"offset":0.595,"color":"#347"},{"offset":0.595,"color":"#d7b"},{"offset":0.6,"color":"#d7b"},{"offset":0.6,"color":"#347"},
{"offset":0.605,"color":"#347"},{"offset":0.605,"color":"#d7b"},{"offset":0.61,"color":"#d7b"},{"offset":0.61,"color":"#347"},
{"offset":0.615,"color":"#347"},{"offset":0.615,"color":"#d7b"},{"offset":0.62,"color":"#d7b"},{"offset":0.62,"color":"#347"},
{"offset":0.625,"color":"#347"},{"offset":0.625,"color":"#d7b"},{"offset":0.63,"color":"#d7b"},{"offset":0.63,"color":"#347"},
{"offset":0.635,"color":"#347"},{"offset":0.635,"color":"#d7b"},{"offset":0.64,"color":"#d7b"},{"offset":0.64,"color":"#347"},
{"offset":0.645,"color":"#347"},{"offset":0.645,"color":"#d7b"},{"offset":0.65,"color":"#d7b"},{"offset":0.65,"color":"#347"},
{"offset":0.655,"color":"#347"},{"offset":0.655,"color":"#d7b"},{"offset":0.66,"color":"#d7b"},{"offset":0.66,"color":"#347"},
{"offset":0.665,"color":"#347"},{"offset":0.665,"color":"#d7b"},{"offset":0.67,"color":"#d7b"},{"offset":0.67,"color":"#347"},
{"offset":0.675,"color":"#347"},{"offset":0.675,"color":"#d7b"},{"offset":0.68,"color":"#d7b"},{"offset":0.68,"color":"#347"},
{"offset":0.685,"color":"#347"},{"offset":0.685,"color":"#d7b"},{"offset":0.69,"color":"#d7b"},{"offset":0.69,"color":"#347"},
{"offset":0.695,"color":"#347"},{"offset":0.695,"color":"#d7b"},{"offset":0.7,"color":"#d7b"},{"offset":0.7,"color":"#347"},
{"offset":0.705,"color":"#347"},{"offset":0.705,"color":"#d7b"},{"offset":0.71,"color":"#d7b"},{"offset":0.71,"color":"#347"},
{"offset":0.715,"color":"#347"},{"offset":0.715,"color":"#d7b"},{"offset":0.72,"color":"#d7b"},{"offset":0.72,"color":"#347"},
{"offset":0.725,"color":"#347"},{"offset":0.725,"color":"#d7b"},{"offset":0.73,"color":"#d7b"},{"offset":0.73,"color":"#347"},
{"offset":0.735,"color":"#347"},{"offset":0.735,"color":"#d7b"},{"offset":0.74,"color":"#d7b"},{"offset":0.74,"color":"#347"},
{"offset":0.745,"color":"#347"},{"offset":0.745,"color":"#d7b"},{"offset":0.75,"color":"#d7b"},{"offset":0.75,"color":"#347"},
{"offset":0.755,"color":"#347"},{"offset":0.755,"color":"#d7b"},{"offset":0.76,"color":"#d7b"},{"offset":0.76,"color":"#347"},
{"offset":0.765,"color":"#347"},{"offset":0.765,"color":"#d7b"},{"offset":0.77,"color":"#d7b"},{"offset":0.77,"color":"#347"}
]}}}
],
"config":{"view":{"stroke":"#8c8c8c","strokeWidth":1}}
}
